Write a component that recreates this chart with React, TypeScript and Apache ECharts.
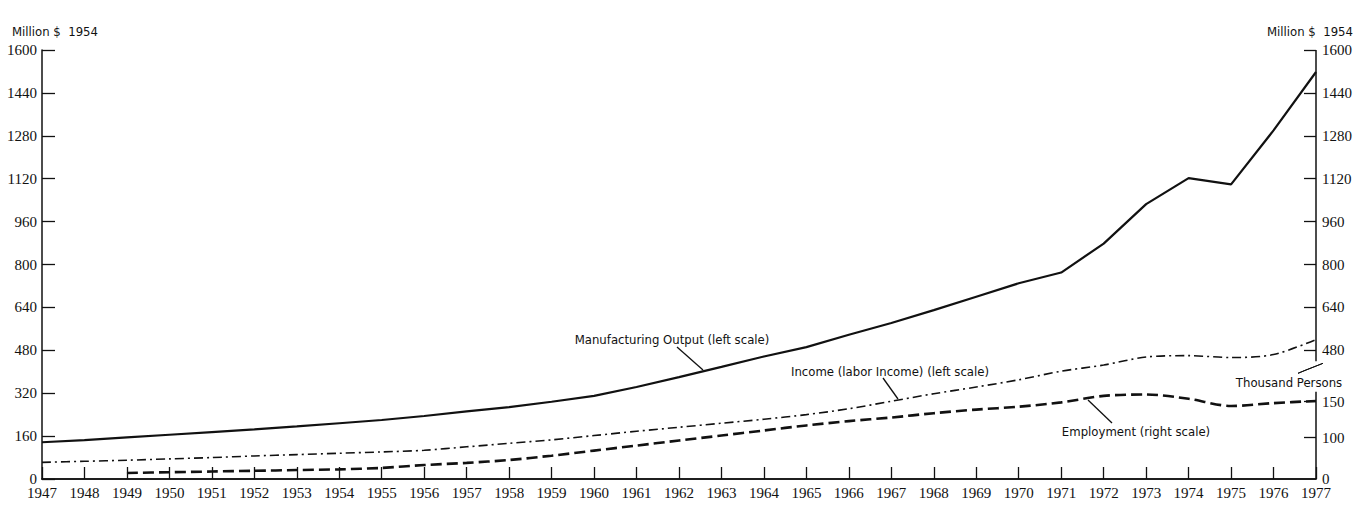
import React, { useEffect, useRef } from "react";
import * as echarts from "echarts";

const YEARS = [
  "1947", "1948", "1949", "1950", "1951", "1952", "1953", "1954", "1955", "1956",
  "1957", "1958", "1959", "1960", "1961", "1962", "1963", "1964", "1965", "1966",
  "1967", "1968", "1969", "1970", "1971", "1972", "1973", "1974", "1975", "1976", "1977",
];

// Manufacturing Output, million $ 1954 (left scale)
const OUTPUT = [
  137, 145, 155, 165, 175, 185, 196, 208, 220, 235,
  252, 268, 288, 310, 343, 380, 418, 457, 492, 538,
  582, 630, 680, 730, 770, 878, 1025, 1122, 1099, 1300, 1518,
];

// Income (labor income), million $ 1954 (left scale)
const INCOME = [
  62, 66, 70, 75, 80, 86, 91, 96, 101, 107,
  120, 133, 146, 162, 178, 193, 208, 223, 240, 262,
  290, 318, 343, 370, 402, 425, 455, 460, 453, 464, 520,
];

// Employment, thousand persons (right scale)
const EMPLOYMENT = [
  null, null, 51, 52, 53, 54, 55, 56, 58, 62,
  65, 69, 75, 82, 89, 96, 103, 110, 117, 123,
  128, 134, 139, 143, 149, 158, 160, 154, 144, 148, 151,
];

const LEFT_TICKS = [0, 160, 320, 480, 640, 800, 960, 1120, 1280, 1440, 1600];
const RIGHT_MONEY_TICKS = [480, 640, 800, 960, 1120, 1280, 1440, 1600];
const RIGHT_PERSON_TICKS = [100, 150];
// broken employment scale: the bottom of the axis is labelled "0"
const EMP_AXIS_BASE = 42.6;
const EMP_AXIS_TOP = 638.4;

const W = 1368;
const H = 514;
const GRID = { left: 42, right: 52, top: 50, bottom: 35 };

const NUM_FONT = "Liberation Serif";
const TXT_FONT = "DejaVu Sans Condensed, Roboto, sans-serif";
const INK = "#111111";

export default function App() {
  const ref = useRef<HTMLDivElement>(null);

  useEffect(() => {
    document.body.style.margin = "0";
    if (!ref.current) return;
    const chart = echarts.init(ref.current, null, { renderer: "svg" });

    const labelStyle = { color: INK, fontFamily: NUM_FONT, fontSize: 15 };
    const plain = (v: number | string) => String(v);

    chart.setOption({
      animation: false,
      backgroundColor: "#ffffff",
      grid: { ...GRID, containLabel: false },
      xAxis: [
        {
          type: "category",
          data: YEARS,
          boundaryGap: false,
          axisLine: { show: true, lineStyle: { color: INK, width: 1.5 } },
          axisTick: { show: true, inside: true, length: 12, lineStyle: { color: INK, width: 1.3 } },
          axisLabel: { ...labelStyle, interval: 0, margin: 6 },
          splitLine: { show: false },
        },
        {
          type: "category",
          data: YEARS,
          position: "top",
          boundaryGap: false,
          axisLine: { show: true, lineStyle: { color: INK, width: 1.5 } },
          axisTick: { show: false },
          axisLabel: { show: false },
          splitLine: { show: false },
        },
      ],
      yAxis: [
        {
          type: "value",
          position: "left",
          min: 0,
          max: 1600,
          interval: 160,
          axisLine: { show: true, lineStyle: { color: INK, width: 1.5 } },
          axisTick: { show: true, inside: true, length: 13, lineStyle: { color: INK, width: 1.3 } },
          axisLabel: { ...labelStyle, margin: 5, customValues: LEFT_TICKS, formatter: plain },
          splitLine: { show: false },
        },
        {
          type: "value",
          position: "right",
          min: 0,
          max: 1600,
          interval: 160,
          axisLine: { show: false },
          axisTick: {
            show: true,
            inside: true,
            length: 12,
            customValues: RIGHT_MONEY_TICKS,
            lineStyle: { color: INK, width: 1.3 },
          },
          axisLabel: { ...labelStyle, margin: 6, customValues: RIGHT_MONEY_TICKS, formatter: plain },
          splitLine: { show: false },
        },
        {
          type: "value",
          position: "right",
          min: EMP_AXIS_BASE,
          max: EMP_AXIS_TOP,
          axisLine: { show: false },
          axisTick: {
            show: true,
            inside: true,
            length: 12,
            customValues: RIGHT_PERSON_TICKS,
            lineStyle: { color: INK, width: 1.3 },
          },
          axisLabel: {
            ...labelStyle,
            margin: 6,
            customValues: [EMP_AXIS_BASE, ...RIGHT_PERSON_TICKS],
            formatter: (v: number) => (Math.abs(v - EMP_AXIS_BASE) < 0.01 ? "0" : String(v)),
          },
          splitLine: { show: false },
        },
      ],
      series: [
        {
          name: "Manufacturing Output (left scale)",
          type: "line",
          data: OUTPUT,
          xAxisIndex: 0,
          yAxisIndex: 0,
          symbol: "none",
          smooth: false,
          lineStyle: { color: INK, width: 2.2, type: "solid" },
        },
        {
          name: "Income (labor Income) (left scale)",
          type: "line",
          data: INCOME,
          xAxisIndex: 0,
          yAxisIndex: 0,
          symbol: "none",
          smooth: 0.3,
          lineStyle: { color: INK, width: 1.6, type: [9, 4, 2, 4] },
        },
        {
          name: "Employment (right scale)",
          type: "line",
          data: EMPLOYMENT,
          xAxisIndex: 0,
          yAxisIndex: 2,
          symbol: "none",
          smooth: 0.3,
          connectNulls: false,
          lineStyle: { color: INK, width: 2.6, type: [11, 5] },
        },
      ],
    });

    const xr = W - GRID.right;
    const yTop = GRID.top;
    const yBottom = H - GRID.bottom;
    const y480 = chart.convertToPixel({ yAxisIndex: 1 }, 480) as number;
    const y150 = chart.convertToPixel({ yAxisIndex: 2 }, 150) as number;

    const textEl = (t: string, x: number, y: number, align: string) => ({
      type: "text",
      x,
      y,
      style: {
        text: t,
        fill: INK,
        fontFamily: TXT_FONT,
        fontSize: 13,
        align,
        verticalAlign: "middle",
      },
    });
    const leader = (x1: number, y1: number, x2: number, y2: number) => ({
      type: "line",
      shape: { x1, y1, x2, y2 },
      style: { stroke: INK, lineWidth: 1.3 },
    });

    chart.setOption({
      graphic: [
        // broken right axis
        {
          type: "line",
          shape: { x1: xr, y1: yTop, x2: xr, y2: y480 + 11 },
          style: { stroke: INK, lineWidth: 1.5 },
        },
        {
          type: "line",
          shape: { x1: xr, y1: y150 - 10, x2: xr, y2: yBottom },
          style: { stroke: INK, lineWidth: 1.5 },
        },
        {
          type: "polygon",
          shape: {
            points: [
              [xr - 18, y480 + 23],
              [xr + 7, y480 + 13],
              [xr - 11, y480 + 20],
            ],
          },
          style: { fill: INK, stroke: INK, lineWidth: 1 },
        },
        // unit headers
        textEl("Million $  1954", 12, 31, "left"),
        textEl("Million $  1954", 1353, 31, "right"),
        textEl("Thousand Persons", 1289, y150 - 19, "center"),
        // series annotations
        textEl("Manufacturing Output (left scale)", 672, 339, "center"),
        leader(677, 347, 703, 370),
        textEl("Income (labor Income) (left scale)", 890, 371, "center"),
        leader(883, 378, 898, 399),
        textEl("Employment (right scale)", 1136, 431, "center"),
        leader(1112, 423, 1088, 400),
      ],
    });

    return () => chart.dispose();
  }, []);

  return (
    <div
      ref={ref}
      style={{ position: "fixed", left: 0, top: 0, width: W, height: H, background: "#fff" }}
    />
  );
}
